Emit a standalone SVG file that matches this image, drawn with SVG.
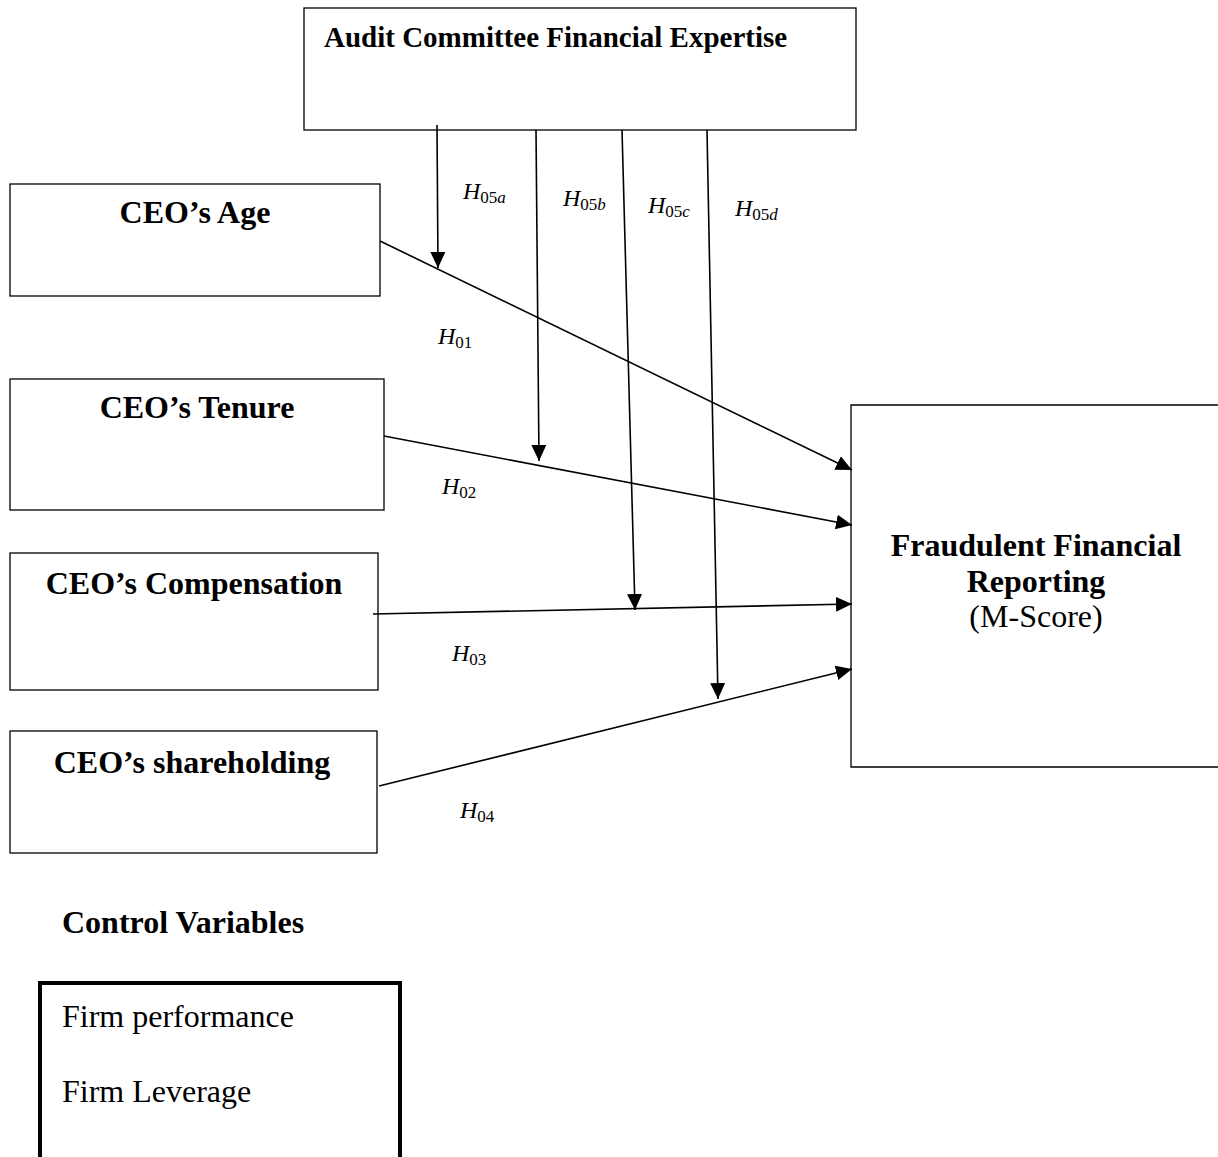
<svg xmlns="http://www.w3.org/2000/svg" width="1218" height="1157" viewBox="0 0 1218 1157">
<style>
.box{fill:#fff;stroke:#000;stroke-width:1.3}
.b{font-family:"Liberation Serif","Times New Roman",serif;font-weight:bold;font-size:32px;fill:#000}
.r{font-family:"Liberation Serif","Times New Roman",serif;font-size:32px;fill:#000}
.h{font-family:"Liberation Serif","Times New Roman",serif;font-style:italic;font-size:24px;fill:#000}
.s{font-style:normal;font-size:17px}
.si{font-style:italic;font-size:17px}
.c{fill:none;stroke:#000;stroke-width:1.6}
</style>
<defs>
<marker id="ah" markerUnits="userSpaceOnUse" markerWidth="18" markerHeight="16" refX="16" refY="7.5" orient="auto">
<path d="M0,0 L16,7.5 L0,15 z" fill="#000"/>
</marker>
</defs>
<rect width="1218" height="1157" fill="#fff"/>
<g id="audit">
<rect class="box" x="304" y="8" width="552" height="122"/>
<text class="b" x="324" y="47" style="font-size:29px">Audit Committee Financial Expertise</text>
</g>
<g id="age">
<rect class="box" x="10" y="184" width="370" height="112"/>
<text class="b" x="195" y="223" text-anchor="middle">CEO’s Age</text>
</g>
<g id="tenure">
<rect class="box" x="10" y="379" width="374" height="131"/>
<text class="b" x="197" y="418" text-anchor="middle">CEO’s Tenure</text>
</g>
<g id="compensation">
<rect class="box" x="10" y="553" width="368" height="137"/>
<text class="b" x="194" y="594" text-anchor="middle">CEO’s Compensation</text>
</g>
<g id="shareholding">
<rect class="box" x="10" y="731" width="367" height="122"/>
<text class="b" x="192" y="773" text-anchor="middle">CEO’s shareholding</text>
</g>
<g id="ffr">
<path class="box" d="M1220,405 L851,405 L851,767 L1220,767"/>
<text class="b" x="1036" y="556" text-anchor="middle">Fraudulent Financial</text>
<text class="b" x="1036" y="592" text-anchor="middle">Reporting</text>
<text class="r" x="1036" y="627" text-anchor="middle">(M-Score)</text>
</g>
<g id="controls">
<text class="b" x="62" y="933">Control Variables</text>
<rect x="40" y="983" width="360" height="200" fill="none" stroke="#000" stroke-width="4"/>
<text class="r" x="62" y="1027">Firm performance</text>
<text class="r" x="62" y="1102">Firm Leverage</text>
</g>
<g id="connectors">
<line class="c" x1="437" y1="125" x2="438" y2="268" marker-end="url(#ah)"/>
<line class="c" x1="536" y1="130" x2="539" y2="461" marker-end="url(#ah)"/>
<line class="c" x1="622" y1="130" x2="635" y2="610" marker-end="url(#ah)"/>
<line class="c" x1="707" y1="130" x2="718" y2="699" marker-end="url(#ah)"/>
<line class="c" x1="380" y1="241" x2="852" y2="470" marker-end="url(#ah)"/>
<line class="c" x1="384" y1="436" x2="852" y2="525" marker-end="url(#ah)"/>
<line class="c" x1="373" y1="614" x2="852" y2="604" marker-end="url(#ah)"/>
<line class="c" x1="379" y1="786" x2="852" y2="669" marker-end="url(#ah)"/>
</g>
<g id="labels">
<text class="h" x="463" y="199">H<tspan class="s" dy="4">05</tspan><tspan class="si">a</tspan></text>
<text class="h" x="563" y="206">H<tspan class="s" dy="4">05</tspan><tspan class="si">b</tspan></text>
<text class="h" x="648" y="213">H<tspan class="s" dy="4">05</tspan><tspan class="si">c</tspan></text>
<text class="h" x="735" y="216">H<tspan class="s" dy="4">05</tspan><tspan class="si">d</tspan></text>
<text class="h" x="438" y="344">H<tspan class="s" dy="4">01</tspan></text>
<text class="h" x="442" y="494">H<tspan class="s" dy="4">02</tspan></text>
<text class="h" x="452" y="661">H<tspan class="s" dy="4">03</tspan></text>
<text class="h" x="460" y="818">H<tspan class="s" dy="4">04</tspan></text>
</g>
</svg>
